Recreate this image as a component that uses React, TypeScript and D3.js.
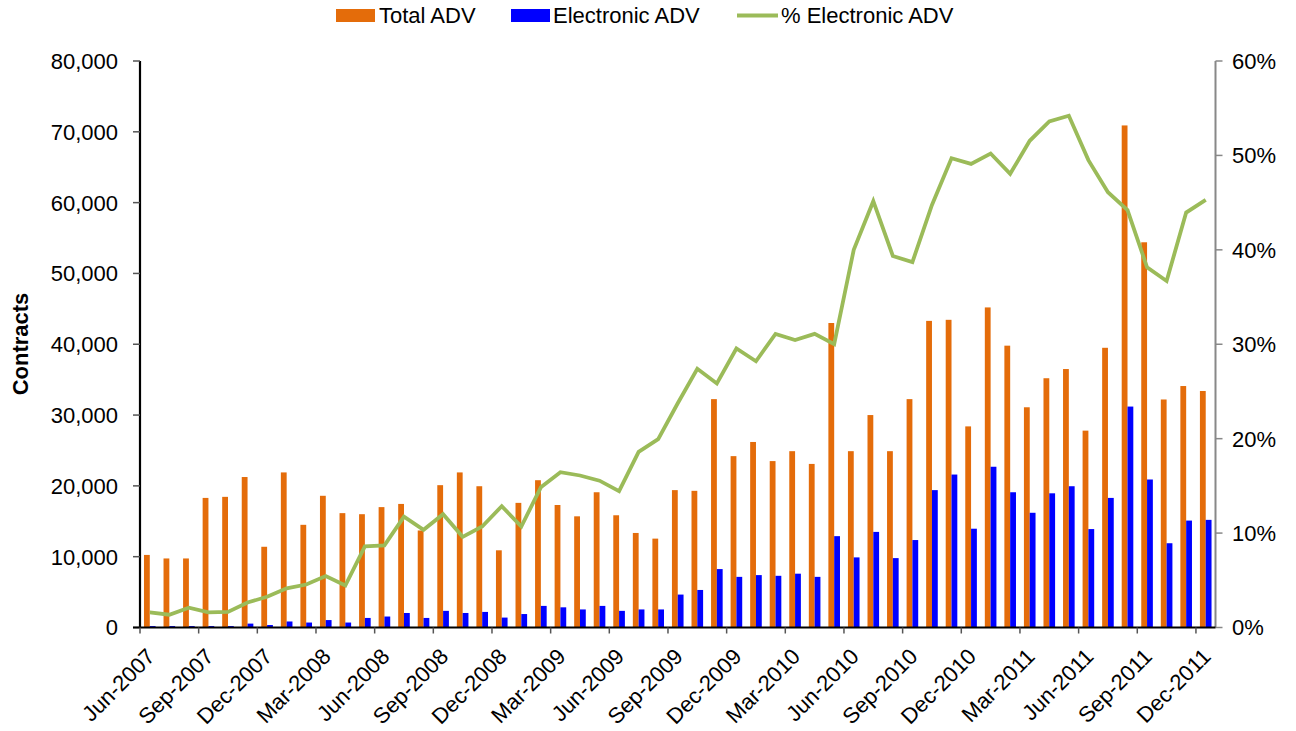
import React from "react";
import * as d3 from "d3";

const months: string[] = (() => {
  const names = ["Jan","Feb","Mar","Apr","May","Jun","Jul","Aug","Sep","Oct","Nov","Dec"];
  const out: string[] = [];
  for (let y = 2007; y <= 2011; y++) for (let m = 0; m < 12; m++) {
    if (y === 2007 && m < 5) continue;
    out.push(`${names[m]}-${y}`);
  }
  return out;
})();

const totalADV: number[] = [
  10250, 9750, 9750, 18300, 18450, 21250, 11400, 21900, 14500, 18600,
  16150, 16000, 17000, 17450, 13700, 20100, 21900, 19950, 10900, 17600,
  20800, 17300, 15700, 19100, 15850, 13350, 12550, 19400, 19300, 32250,
  24200, 26200, 23500, 24900, 23100, 43000, 24900, 30000, 24900, 32250,
  43300, 43450, 28400, 45200, 39800, 31100, 35200, 36500, 27800, 39500,
  70900, 54400, 32200, 34100, 33400,
];

const electronicADV: number[] = [
  200, 200, 200, 200, 200, 550, 350, 850, 700, 1050,
  700, 1350, 1550, 2050, 1350, 2350, 2050, 2200, 1400, 1900,
  3050, 2850, 2550, 3050, 2350, 2550, 2550, 4650, 5300, 8250,
  7150, 7400, 7300, 7600, 7150, 12900, 9900, 13500, 9800, 12350,
  19400, 21600, 13950, 22700, 19100, 16200, 18950, 19950, 13900, 18300,
  31200, 20900, 11900, 15100, 15200,
];

const pctElectronic: number[] = [
  1.6, 1.35, 2.1, 1.6, 1.65, 2.65, 3.25, 4.15, 4.55, 5.45,
  4.45, 8.6, 8.7, 11.75, 10.35, 12.0, 9.6, 10.7, 12.85, 10.7,
  14.85, 16.45, 16.1, 15.55, 14.45, 18.6, 19.95, 23.75, 27.4, 25.85,
  29.55, 28.2, 31.1, 30.45, 31.1, 30.0, 40.0, 45.15, 39.35, 38.7,
  44.75, 49.7, 49.1, 50.2, 48.05, 51.55, 53.6, 54.2, 49.5, 46.1,
  44.2, 38.15, 36.7, 43.95, 45.3,
];

const leftTicks: number[] = [0, 10000, 20000, 30000, 40000, 50000, 60000, 70000, 80000];
const rightTicks: number[] = [0, 10, 20, 30, 40, 50, 60];
const seriesNames: string[] = ["Total ADV", "Electronic ADV", "% Electronic ADV"];

const ORANGE = "#E46C0A";
const BLUE = "#0000FF";
const GREEN = "#9BBB59";
const FONT = "'Liberation Sans', Arial, sans-serif";
const FS = 22;

export default function App() {
  const W = 1296, H = 731;
  const left = 140, right = 1215.5, top = 61, bottom = 627.5;

  const x = d3.scaleBand<string>().domain(months).range([left, right]).paddingInner(0).paddingOuter(0);
  const x1 = d3.scaleBand<string>().domain(["total", "elec"]).range([0, x.bandwidth()]).paddingInner(0).paddingOuter(0.685);
  const y = d3.scaleLinear().domain([0, 80000]).range([bottom, top]);
  const y2 = d3.scaleLinear().domain([0, 60]).range([bottom, top]);
  const fmt = d3.format(",");

  const line = d3.line<number>()
    .x((_, i) => (x(months[i]) as number) + x.bandwidth() / 2)
    .y((d) => y2(d));

  const tickIdx = months.map((_, i) => i).filter((i) => i % 3 === 0);

  return (
    <svg width={W} height={H} style={{ position: "absolute", left: 0, top: 0, background: "#fff" }} fontFamily={FONT}>
      <rect width={W} height={H} fill="#fff" />
      {/* bars */}
      {months.map((m, i) => (
        <g key={m} transform={`translate(${x(m)},0)`}>
          <rect x={x1("total")} width={x1.bandwidth()} y={y(totalADV[i])} height={bottom - y(totalADV[i])} fill={ORANGE} />
          <rect x={x1("elec")} width={x1.bandwidth()} y={y(electronicADV[i])} height={bottom - y(electronicADV[i])} fill={BLUE} />
        </g>
      ))}
      {/* line */}
      <path d={line(pctElectronic) || ""} fill="none" stroke={GREEN} strokeWidth={3.8} strokeLinejoin="miter" />

      {/* left axis */}
      <line x1={left} x2={left} y1={top} y2={bottom} stroke="#000" strokeWidth={2.2} />
      {leftTicks.map((t) => (
        <g key={t}>
          <line x1={left - 7} x2={left} y1={y(t)} y2={y(t)} stroke="#555" strokeWidth={1.5} />
          <text x={118} y={y(t)} dy="0.36em" textAnchor="end" fontSize={FS} fill="#000">{fmt(t)}</text>
        </g>
      ))}
      <text transform={`translate(28,344) rotate(-90)`} textAnchor="middle" fontSize={FS} fontWeight="bold">Contracts</text>

      {/* right axis */}
      <line x1={right} x2={right} y1={top} y2={bottom} stroke="#888" strokeWidth={2} />
      {rightTicks.map((t) => (
        <g key={t}>
          <line x1={right} x2={right + 7} y1={y2(t)} y2={y2(t)} stroke="#888" strokeWidth={1.5} />
          <text x={1232} y={y2(t)} dy="0.36em" textAnchor="start" fontSize={FS} fill="#000">{t}%</text>
        </g>
      ))}

      {/* bottom axis */}
      <line x1={left - 7} x2={right} y1={bottom} y2={bottom} stroke="#000" strokeWidth={2.2} />
      {tickIdx.map((i) => {
        const bx = x(months[i]) as number;
        const cx = bx + x.bandwidth() / 2;
        return (
          <g key={months[i]}>
            <line x1={bx} x2={bx} y1={bottom} y2={bottom + 6} stroke="#555" strokeWidth={1.5} />
            <text transform={`translate(${cx + 1},${bottom + 25}) rotate(-45)`} textAnchor="end" dy="0.35em" fontSize={FS}>{months[i]}</text>
          </g>
        );
      })}

      {/* legend */}
      <g>
        <rect x={336} y={9} width={39} height={13} fill={ORANGE} />
        <text x={379} y={22.5} fontSize={FS}>{seriesNames[0]}</text>
        <rect x={511} y={9} width={39} height={13} fill={BLUE} />
        <text x={553} y={22.5} fontSize={FS}>{seriesNames[1]}</text>
        <line x1={737} x2={778} y1={15.5} y2={15.5} stroke={GREEN} strokeWidth={3.8} />
        <text x={781} y={22.5} fontSize={FS}>{seriesNames[2]}</text>
      </g>
    </svg>
  );
}
